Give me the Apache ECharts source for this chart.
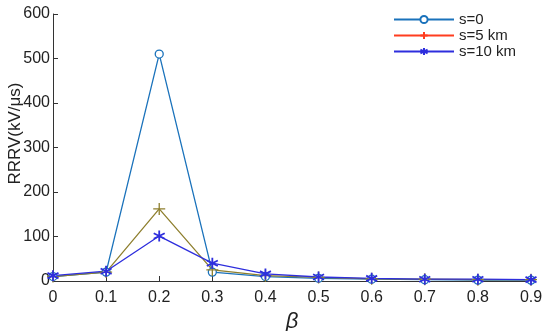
<!DOCTYPE html>
<html><head><meta charset="utf-8">
<script src="https://cdn.jsdelivr.net/npm/echarts@6/dist/echarts.min.js"></script>
<style>html,body{margin:0;padding:0;background:#fff}#c{width:550px;height:331px}</style>
</head><body><div id="c"></div>
<script>
const betas = [0, 0.1, 0.2, 0.3, 0.4, 0.5, 0.6, 0.7, 0.8, 0.9];
const s0 = [10, 20, 510, 20, 10, 6, 4, 3, 2, 2];
const s5 = [10, 20, 162, 25, 12, 8, 5, 4, 3, 3];
const s10 = [12, 22, 101, 40, 16, 9, 6, 4, 4, 3];
const names = ['s=0', 's=5 km', 's=10 km'];
const xTicks = ['0','0.1','0.2','0.3','0.4','0.5','0.6','0.7','0.8','0.9'];

const pair = a => betas.map((b, i) => [b, a[i]]);
const ast = 'path://M0,-10L0,10M-8.66,-5L8.66,5M-8.66,5L8.66,-5';
const plus = 'path://M-10,0L10,0M0,-10L0,10';
const chart = echarts.init(document.getElementById('c'));
chart.setOption({
  animation: false,
  textStyle: {fontFamily: 'Liberation Sans, Arial, sans-serif'},
  grid: {left: 53, right: 19, top: 14, bottom: 50, outerBoundsMode: 'none', containLabel: false},
  legend: {
    left: 388, top: 7, orient: 'vertical', itemGap: 1, itemWidth: 60, itemHeight: 9,
    textStyle: {fontSize: 15, color: '#222', padding: [0, 0, 0, 0]},
    data: [
      {name: names[0]},
      {name: names[1], itemStyle: {borderColor: '#FF3D1F', color: 'none'}, lineStyle: {color: '#FF3D1F'}},
      {name: names[2]}
    ]
  },
  xAxis: {
    type: 'value', min: 0, max: 0.9, interval: 0.1,
    name: 'β', nameLocation: 'middle', nameGap: 30,
    nameTextStyle: {fontSize: 22, fontStyle: 'italic', color: '#222'},
    axisLine: {lineStyle: {color: '#333'}},
    axisTick: {inside: true, length: 5, lineStyle: {color: '#333'}},
    axisLabel: {fontSize: 16, color: '#222', margin: 9, formatter: (v) => xTicks[Math.round(v * 10)]},
    splitLine: {show: false}
  },
  yAxis: {
    type: 'value', min: 0, max: 600, interval: 100,
    name: 'RRRV(kV/μs)', nameLocation: 'middle', nameGap: 29, nameMoveOverlap: false,
    nameTextStyle: {fontSize: 17, color: '#222', padding: [0, 0, 0, 28]},
    axisLine: {show: true, lineStyle: {color: '#333'}},
    axisTick: {show: true, inside: true, length: 5, lineStyle: {color: '#333'}},
    axisLabel: {fontSize: 16, color: '#222', margin: 3},
    splitLine: {show: false}
  },
  series: [
    {name: names[0], type: 'line', data: pair(s0), symbol: 'circle', symbolSize: 8,
     lineStyle: {color: '#1A72BB', width: 1.3},
     itemStyle: {color: '#fff', borderColor: '#1A72BB', borderWidth: 1.3}},
    {name: names[1], type: 'line', data: pair(s5), symbol: plus, symbolSize: 12,
     lineStyle: {color: '#8E7F2E', width: 1.3},
     itemStyle: {color: 'none', borderColor: '#8E7F2E', borderWidth: 1.3}},
    {name: names[2], type: 'line', data: pair(s10), symbol: ast, symbolSize: 11,
     lineStyle: {color: '#2E2EDD', width: 1.3},
     itemStyle: {color: 'none', borderColor: '#2E2EDD', borderWidth: 1.8}}
  ]
});
</script></body></html>
